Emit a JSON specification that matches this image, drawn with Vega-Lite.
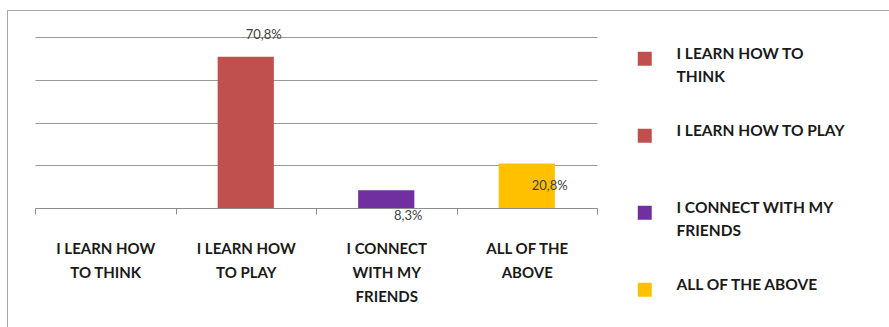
{
  "$schema": "https://vega.github.io/schema/vega-lite/v6.json",
  "width": 885,
  "height": 320,
  "autosize": "none",
  "padding": {"left": 7, "top": 10, "right": 0, "bottom": 0},
  "background": "white",
  "data": {"values": [
    {"category": "I LEARN HOW TO THINK", "value": 0, "label": ""},
    {"category": "I LEARN HOW TO PLAY", "value": 70.8, "label": "70,8%"},
    {"category": "I CONNECT WITH MY FRIENDS", "value": 8.3, "label": "8,3%"},
    {"category": "ALL OF THE ABOVE", "value": 20.8, "label": "20,8%"}
  ]},
  "encoding": {
    "x": {
      "field": "category", "type": "nominal", "sort": null,
      "scale": {"range": [28, 590], "paddingInner": 0, "paddingOuter": 0},
      "axis": {
        "title": null, "orient": "bottom", "offset": -122,
        "domainColor": "#8c8c8c", "tickColor": "#8c8c8c", "tickSize": 6,
        "tickBand": "extent", "grid": false,
        "labelPadding": 27, "labelFont": "Lato", "labelFontWeight": "bold",
        "labelFontSize": 15, "labelColor": "#1a1a1a", "labelAngle": 0,
        "labelBaseline": "top", "labelLineHeight": 24, "labelLimit": 0,
        "labelExpr": "datum.label == 'I LEARN HOW TO THINK' ? ['I LEARN HOW', 'TO THINK'] : datum.label == 'I LEARN HOW TO PLAY' ? ['I LEARN HOW', 'TO PLAY'] : datum.label == 'I CONNECT WITH MY FRIENDS' ? ['I CONNECT', 'WITH MY', 'FRIENDS'] : datum.label == 'ALL OF THE ABOVE' ? ['ALL OF THE', 'ABOVE'] : ''"
      }
    },
    "y": {
      "field": "value", "type": "quantitative",
      "scale": {"domain": [0, 80], "range": [198, 27], "nice": false},
      "axis": {
        "title": null, "labels": false, "ticks": false, "domain": false,
        "grid": true, "gridColor": "#999999", "values": [20, 40, 60, 80]
      }
    }
  },
  "layer": [
    {
      "mark": {"type": "bar", "width": {"band": 0.4}},
      "encoding": {
        "color": {
          "field": "category", "type": "nominal",
          "scale": {
            "domain": ["I LEARN HOW TO THINK", "I LEARN HOW TO PLAY", "I CONNECT WITH MY FRIENDS", "ALL OF THE ABOVE"],
            "range": ["#C0504D", "#C0504D", "#7030A0", "#FFC000"]
          },
          "legend": {
            "orient": "none", "legendX": 630, "legendY": 41, "title": null,
            "symbolType": "square", "symbolSize": 196, "symbolStrokeWidth": 0,
            "labelFont": "Lato", "labelFontWeight": "bold", "labelFontSize": 15.5,
            "labelColor": "#1a1a1a", "labelOffset": 24, "labelLimit": 0,
            "rowPadding": 37, "gridAlign": "all", "labelBaseline": "alphabetic",
            "labelExpr": "datum.label == 'I LEARN HOW TO THINK' ? ['I LEARN HOW TO', 'THINK'] : datum.label == 'I CONNECT WITH MY FRIENDS' ? ['I CONNECT WITH MY', 'FRIENDS'] : datum.label"
          }
        }
      }
    },
    {
      "transform": [{"filter": "datum.category == 'I LEARN HOW TO PLAY'"}],
      "mark": {"type": "text", "dx": 18, "dy": -22, "font": "Lato", "fontSize": 13, "color": "#404040", "baseline": "middle"},
      "encoding": {"text": {"field": "label"}}
    },
    {
      "transform": [{"filter": "datum.category == 'I CONNECT WITH MY FRIENDS'"}],
      "mark": {"type": "text", "dx": 22, "dy": 26, "font": "Lato", "fontSize": 13, "color": "#404040", "baseline": "middle"},
      "encoding": {"text": {"field": "label"}}
    },
    {
      "transform": [{"filter": "datum.category == 'ALL OF THE ABOVE'"}],
      "mark": {"type": "text", "dx": 23, "dy": 22, "font": "Lato", "fontSize": 13, "color": "#404040", "baseline": "middle"},
      "encoding": {"text": {"field": "label"}}
    }
  ],
  "config": {
    "view": {"stroke": "#a6a6a6", "strokeWidth": 1},
    "style": {"guide-label": {"lineHeight": 23}}
  }
}
